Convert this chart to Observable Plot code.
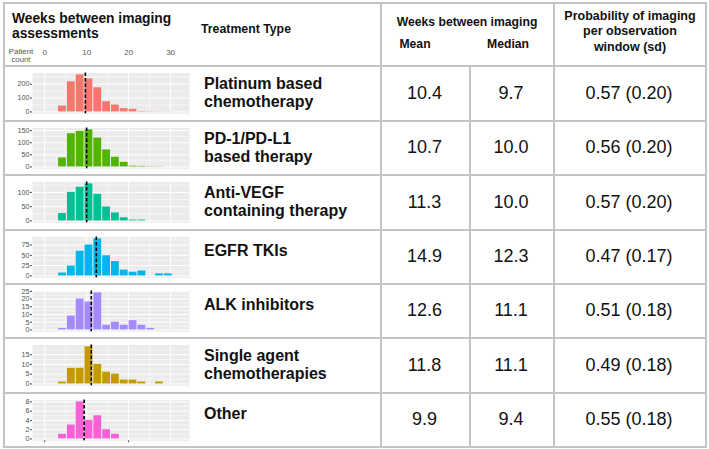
<!DOCTYPE html>
<html><head><meta charset="utf-8">
<script src="https://cdn.jsdelivr.net/npm/d3@7"></script>
<script src="https://cdn.jsdelivr.net/npm/@observablehq/plot@0.6"></script>
<style>
body{margin:0;background:#fff;}
#root{position:relative;width:709px;height:449px;font-family:"Liberation Sans",Arial,Helvetica,sans-serif;color:#000;overflow:hidden;}
.hl{position:absolute;height:1.5px;background:#c4c4c4;}
.vl{position:absolute;width:1.5px;background:#c4c4c4;}
.t{position:absolute;white-space:nowrap;}
.cell{position:absolute;display:flex;align-items:center;justify-content:center;font-size:18px;line-height:18px;color:#111;}
.hist{position:absolute;left:0;}
.hist svg{overflow:visible;}
</style></head><body><div id="root"></div>
<script>
// ---- data ----
const treatmentLabels = [
  ["Platinum based", "chemotherapy"],
  ["PD-1/PD-L1", "based therapy"],
  ["Anti-VEGF", "containing therapy"],
  ["EGFR TKIs"],
  ["ALK inhibitors"],
  ["Single agent", "chemotherapies"],
  ["Other"]
];
const seriesColors = ["#F8766D", "#53B400", "#00C094", "#00B6EB", "#A58AFF", "#C49A00", "#FB61D7"];
const meanWeeks   = ["10.4", "10.7", "11.3", "14.9", "12.6", "11.8", "9.9"];
const medianWeeks = [9.7, 10.0, 10.0, 12.3, 11.1, 11.1, 9.4];
const probMean = ["0.57", "0.56", "0.57", "0.47", "0.51", "0.49", "0.55"];
const probSd   = ["0.20", "0.20", "0.20", "0.17", "0.18", "0.18", "0.18"];
// histogram bins (weeks) shared by all panels
const binStarts = [3.2, 5.3, 7.4, 9.5, 11.6, 13.7, 15.8, 17.9, 20.0, 22.1, 24.2, 26.3, 28.4];
const binWidth = 2.1;
const countsPlatinum = [43, 217, 267, 238, 174, 74, 50, 24, 19, 3, 2, 1, 1];
const countsPD1      = [37, 137, 147, 153, 119, 70, 40, 19, 3, 2, 1, 1, 0];
const countsVEGF     = [26, 100, 118, 130, 93, 49, 28, 11, 3, 3, 0, 0, 0];
const countsEGFR     = [7, 24, 60, 75, 90, 49, 35, 14, 9, 12, 0, 5, 5];
const countsALK      = [1, 9, 20, 18, 24, 3, 5, 3, 6, 3, 1, 0, 0];
const countsSingle   = [1, 8, 8, 19, 10, 6, 5, 2, 2, 1, 0, 1, 0];
const countsOther    = [1, 3, 8, 4, 5, 2, 1, 0, 0, 0, 0, 0, 0];
const allCounts = [countsPlatinum, countsPD1, countsVEGF, countsEGFR, countsALK, countsSingle, countsOther];
const yTicks = [[0, 100, 200], [0, 50, 100, 150], [0, 50, 100], [0, 25, 50, 75], [0, 5, 10, 15, 20, 25], [0, 5, 10, 15], [0, 2, 4, 6, 8]];
const xTicks = [0, 10, 20, 30];
const xMinor = [5, 15, 25];
const xBottomTicks = [0, 20];

// ---- layout ----
const root = document.getElementById("root");
const FONT = '"Liberation Sans",Arial,Helvetica,sans-serif';
const rowTops = [65, 120, 174, 229, 283, 337, 392];
const tableBottom = 446;
const xDomain = [-2.9, 34.5];

function line(cls, x, y, len) {
  const d = document.createElement("div");
  d.className = cls;
  d.style.left = x + "px"; d.style.top = y + "px";
  if (cls === "hl") d.style.width = len + "px"; else d.style.height = len + "px";
  root.appendChild(d);
}
function text(str, x, baseline, size, opts = {}) {
  const d = document.createElement("div");
  d.className = "t";
  d.textContent = str;
  d.style.fontSize = size + "px";
  d.style.lineHeight = size + "px";
  d.style.top = (baseline - 0.8465 * size) + "px";
  d.style.left = x + "px";
  if (opts.bold) d.style.fontWeight = "bold";
  d.style.color = opts.color || "#111";
  if (opts.anchor === "middle") d.style.transform = "translateX(-50%)";
  root.appendChild(d);
}
function cell(str, x1, x2, y1, y2) {
  const d = document.createElement("div");
  d.className = "cell";
  d.textContent = str;
  d.style.left = x1 + "px"; d.style.width = (x2 - x1) + "px";
  d.style.top = y1 + "px"; d.style.height = (y2 - y1) + "px";
  root.appendChild(d);
}

// header texts
text("Weeks between imaging", 12, 24, 13.8, {bold: true});
text("assessments", 12, 38.5, 13.8, {bold: true});
text("Patient", 21, 55, 7.8, {color: "#555", anchor: "middle"});
text("count", 21, 62.5, 7.8, {color: "#555", anchor: "middle"});
text("Treatment Type", 201, 33, 12.3, {bold: true});
text("Weeks between imaging", 467, 26, 12.2, {bold: true, anchor: "middle"});
text("Mean", 415, 48, 12.2, {bold: true, anchor: "middle"});
text("Median", 508, 48, 12.2, {bold: true, anchor: "middle"});
text("Probability of imaging", 630, 20.5, 12.5, {bold: true, anchor: "middle"});
text("per observation", 630, 36, 12.5, {bold: true, anchor: "middle"});
text("window (sd)", 630, 51.5, 12.5, {bold: true, anchor: "middle"});

// header x axis (weeks)
{
  const ax = Plot.plot({
    width: 200, height: 16, marginLeft: 32, marginRight: 11, marginTop: 14, marginBottom: 2,
    x: {domain: xDomain},
    style: {fontFamily: FONT, fontSize: "8px", background: "transparent"},
    marks: [Plot.axisX(xTicks, {anchor: "top", tickSize: 0, tickPadding: 2, color: "#555", label: null})]
  });
  const d = document.createElement("div");
  d.className = "hist"; d.style.top = "42px";
  d.appendChild(ax); root.appendChild(d);
}

// rows
treatmentLabels.forEach((lines, i) => {
  const top = rowTops[i];
  const bottom = i < rowTops.length - 1 ? rowTops[i + 1] : tableBottom;
  if (lines.length === 2) {
    text(lines[0], 204, top + 24.3, 16, {bold: true});
    text(lines[1], 204, top + 43, 16, {bold: true});
  } else {
    text(lines[0], 204, top + 28, 16, {bold: true});
  }
  cell(meanWeeks[i], 380, 469, top, bottom);
  cell(medianWeeks[i].toFixed(1), 469, 553, top, bottom);
  cell(`${probMean[i]} (${probSd[i]})`, 553, 705, top, bottom);

  // histogram
  const counts = allCounts[i];
  const bins = counts.map((n, j) => ({x1: binStarts[j], x2: binStarts[j] + binWidth, y1: 0, n}))
    .filter(d => d.n > 0);
  const max = d3.max(counts);
  const ticks = yTicks[i];
  const step = ticks[1] - ticks[0];
  const minor = ticks.map(t => t + step / 2).filter(t => t < max * 1.05);
  const H = bottom - top;
  const isLast = i === treatmentLabels.length - 1;
  const grid = w => ({stroke: "white", strokeOpacity: 1, strokeWidth: w});
  const svg = Plot.plot({
    width: 200, height: H, marginLeft: 32, marginRight: 11, marginTop: 7.5, marginBottom: H - 48.3,
    x: {domain: xDomain, axis: null},
    y: {domain: [-0.05 * max, 1.05 * max], axis: null},
    style: {fontFamily: FONT, fontSize: "7.2px", background: "transparent"},
    marks: [
      Plot.frame({fill: "#EBEBEB", stroke: "none"}),
      Plot.gridX(xMinor, grid(0.5)),
      Plot.gridX(xTicks, grid(1)),
      Plot.gridY(minor, grid(0.5)),
      Plot.gridY(ticks, grid(1)),
      Plot.rect(bins, {x1: "x1", x2: "x2", y1: "y1", y2: "n", fill: seriesColors[i], insetLeft: 0.5, insetRight: 0.5}),
      Plot.ruleX([medianWeeks[i]], {stroke: "black", strokeWidth: 1.6, strokeDasharray: "3.5,2"}),
      Plot.axisY(ticks, {tickSize: 2, tickPadding: 1, color: "#4d4d4d", label: null}),
      isLast ? Plot.axisX(xBottomTicks, {tickSize: 2, tickFormat: () => "", color: "#4d4d4d", label: null}) : null
    ]
  });
  const d = document.createElement("div");
  d.className = "hist"; d.style.top = top + "px";
  d.appendChild(svg); root.appendChild(d);
});

// table lines
line("hl", 3, 2, 703);
rowTops.forEach(y => line("hl", 3, y, 703));
line("hl", 3, tableBottom, 703);
line("vl", 3, 2, tableBottom - 2);
line("vl", 705, 2, tableBottom - 2 + 1.5);
line("vl", 380, 2, tableBottom - 2);
line("vl", 553, 2, tableBottom - 2);
line("vl", 469, rowTops[0], tableBottom - rowTops[0]);
</script>
</body></html>
